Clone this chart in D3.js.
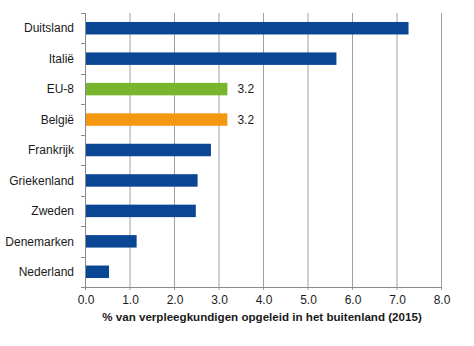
<!DOCTYPE html>
<html><head><meta charset="utf-8">
<script src="https://cdn.jsdelivr.net/npm/d3@7"></script>
<style>body{margin:0;background:#fff}svg{display:block}</style>
</head><body><svg id="c" width="474" height="346"></svg>
<script>
const categories = ["Duitsland","Italië","EU-8","België","Frankrijk","Griekenland","Zweden","Denemarken","Nederland"];
const values = [7.27, 5.65, 3.2, 3.2, 2.83, 2.53, 2.49, 1.16, 0.54];
const barColors = ["#0b4694","#0b4694","#7ab52e","#f3990f","#0b4694","#0b4694","#0b4694","#0b4694","#0b4694"];
const valueLabels = ["","","3.2","3.2","","","","",""];
const xTicks = [0,1,2,3,4,5,6,7,8];
const xTitle = "% van verpleegkundigen opgeleid in het buitenland (2015)";

const svg = d3.select("#c");
const font = "'Liberation Sans', Arial, sans-serif";
const L = 85, R = 441, T = 13, B = 287;
const x = d3.scaleLinear().domain([0,8]).range([L,R]);
const y = d3.scaleBand().domain(categories).range([T,B]).paddingInner(0.59).paddingOuter(0.295);
const yb = d3.scaleBand().domain(categories).range([T,B]);

// gridlines
svg.append("g").selectAll("line").data(xTicks.slice(1)).join("line")
  .attr("x1", d=>x(d)+0.5).attr("x2", d=>x(d)+0.5)
  .attr("y1", T).attr("y2", B+3)
  .attr("stroke", "#a0a0a0").attr("stroke-width", 1);

// bars
svg.append("g").selectAll("rect").data(categories).join("rect")
  .attr("x", x(0)).attr("y", d=>y(d))
  .attr("width", (d,i)=>x(values[i])-x(0)).attr("height", y.bandwidth())
  .attr("fill", (d,i)=>barColors[i]);

// y axis line + ticks
svg.append("line").attr("x1", L+0.5).attr("x2", L+0.5).attr("y1", T).attr("y2", B)
  .attr("stroke", "#8a8a8a");
const yBounds = categories.map(c=>yb(c)).concat([B]);
svg.append("g").selectAll("line").data(yBounds).join("line")
  .attr("x1", L-4).attr("x2", L).attr("y1", d=>Math.round(d)+0.5).attr("y2", d=>Math.round(d)+0.5)
  .attr("stroke", "#8a8a8a");
// x axis line
svg.append("line").attr("x1", L-3).attr("x2", R+1).attr("y1", B+0.5).attr("y2", B+0.5)
  .attr("stroke", "#8a8a8a");
svg.append("line").attr("x1", L+0.5).attr("x2", L+0.5).attr("y1", B).attr("y2", B+3).attr("stroke","#8a8a8a");

// category labels
svg.append("g").selectAll("text").data(categories).join("text")
  .attr("x", 74).attr("y", d=>y(d)+y.bandwidth()/2).attr("dy","0.35em")
  .attr("text-anchor","end").attr("font-family", font).attr("font-size", 12).attr("fill","#1a1a1a")
  .text(d=>d);

// value labels
svg.append("g").selectAll("text").data(categories).join("text")
  .attr("x", (d,i)=>x(values[i])+10).attr("y", d=>y(d)+y.bandwidth()/2).attr("dy","0.35em")
  .attr("font-family", font).attr("font-size", 12).attr("fill","#1a1a1a")
  .text((d,i)=>valueLabels[i]);

// x tick labels
svg.append("g").selectAll("text").data(xTicks).join("text")
  .attr("x", d=>x(d)+1).attr("y", 300).attr("dy","0.35em").attr("text-anchor","middle")
  .attr("font-family", font).attr("font-size", 12).attr("fill","#1a1a1a")
  .text(d=>d3.format(".1f")(d));

// x title
svg.append("text").attr("x", 262).attr("y", 317).attr("dy","0.35em").attr("text-anchor","middle")
  .attr("font-family", font).attr("font-size", 11.6).attr("font-weight","bold").attr("fill","#1a1a1a")
  .text(xTitle);
</script></body></html>
